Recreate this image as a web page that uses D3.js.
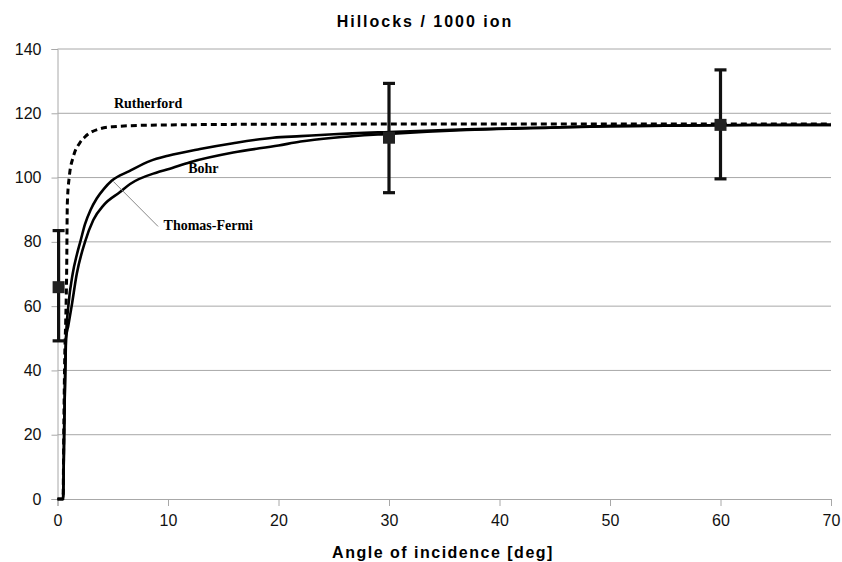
<!DOCTYPE html>
<html>
<head>
<meta charset="utf-8">
<script src="https://cdn.jsdelivr.net/npm/d3@7"></script>
<style>
  body { margin: 0; background: #fff; }
  svg { display: block; }
</style>
</head>
<body>
<div id="svg-container"></div>
<script>
// theoretical curves [angle, hillocks]
const rutherford = [
  [0, 0], [0.5, 0], [0.58, 25], [0.66, 45], [0.74, 55], [0.83, 71], [0.89, 92],
  [1.07, 100.4], [1.43, 106.5], [2.0, 110.7], [2.5, 112.7], [3.85, 115.2], [5, 115.8],
  [8.4, 116.3], [20, 116.6], [40, 116.7], [70, 116.7],
]
const thomasFermi = [
  [0, 0], [0.5, 0], [0.62, 25], [0.77, 50], [0.98, 60], [1.37, 70], [1.75, 76],
  [2.1, 80.5], [2.49, 85.5], [3.0, 90], [3.55, 93.5], [4.2, 96.5], [4.9, 99],
  [6.5, 102], [8.4, 105.2], [10, 106.8], [12.9, 108.9], [15.9, 110.7],
  [19.5, 112.4], [22, 112.9], [25, 113.5], [30, 114.2], [37, 115], [44.6, 115.6],
  [50, 116], [60, 116.3], [70, 116.4],
]
const bohr = [
  [0, 0], [0.5, 0], [0.62, 25], [0.77, 50], [0.98, 54], [1.28, 60], [1.74, 70],
  [2.49, 80], [3.24, 86.8], [4.2, 91.5], [5.66, 95.5], [6.57, 98], [9, 101.6],
  [10, 102.6], [12, 104.8], [15.9, 107.8], [20, 110], [22, 111.2], [25, 112.4],
  [30, 113.6], [37, 114.8], [44.6, 115.5], [50, 116], [60, 116.3], [70, 116.4],
]

// measured points with error bars
const angles = [0.1, 30, 60]
const measured = [65.9, 112.4, 116.4]
const errLow = [49.2, 95.3, 99.6]
const errHigh = [83.5, 129.3, 133.5]

const xTicks = [0, 10, 20, 30, 40, 50, 60, 70]
const yTicks = [0, 20, 40, 60, 80, 100, 120, 140]

const width = 842
const height = 562
const margin = { top: 49, right: 11, bottom: 63, left: 57.5 }

const svg = d3.select('#svg-container').append('svg')
  .attr('width', width).attr('height', height)

const x = d3.scaleLinear().domain([0, 70]).range([margin.left, width - margin.right])
const y = d3.scaleLinear().domain([0, 140]).range([height - margin.bottom, margin.top])

// grid
svg.append('g')
  .selectAll('line')
  .data(yTicks.filter(d => d > 0))
  .join('line')
  .attr('x1', x(0)).attr('x2', x(70))
  .attr('y1', d => y(d)).attr('y2', d => y(d))
  .attr('stroke', '#a8a8a8').attr('stroke-width', 1)

// y axis
const yAxis = svg.append('g')
  .attr('transform', `translate(${x(0)},0)`)
  .call(d3.axisLeft(y).tickValues(yTicks).tickSize(6).tickPadding(10))
yAxis.select('.domain').attr('stroke', '#a8a8a8')
yAxis.selectAll('.tick line').attr('stroke', '#a8a8a8')
yAxis.selectAll('text')
  .attr('font-family', 'Arial, "Liberation Sans", sans-serif')
  .attr('font-size', 16).attr('fill', '#111')

// x axis
const xAxis = svg.append('g')
  .attr('transform', `translate(0,${y(0)})`)
  .call(d3.axisBottom(x).tickValues(xTicks).tickSize(7).tickPadding(9))
xAxis.select('.domain').attr('stroke', '#a8a8a8')
xAxis.selectAll('.tick line').attr('stroke', '#a8a8a8')
xAxis.selectAll('text')
  .attr('font-family', 'Arial, "Liberation Sans", sans-serif')
  .attr('font-size', 16).attr('fill', '#111')

const line = d3.line().x(d => x(d[0])).y(d => y(d[1])).curve(d3.curveMonotoneX)

const curves = svg.append('g').attr('fill', 'none').attr('stroke', '#000')
curves.append('path').datum(bohr).attr('d', line).attr('stroke-width', 2.6)
curves.append('path').datum(thomasFermi).attr('d', line).attr('stroke-width', 2.6)
curves.append('path').datum(rutherford).attr('d', line)
  .attr('stroke-width', 3).attr('stroke-dasharray', '6,4')

// error bars
const pts = angles.map((a, i) => ({ a, v: measured[i], lo: errLow[i], hi: errHigh[i] }))
const eb = svg.append('g').attr('stroke', '#111').attr('stroke-width', 3.2)
eb.selectAll('.stem').data(pts).join('line').attr('class', 'stem')
  .attr('x1', d => x(d.a)).attr('x2', d => x(d.a))
  .attr('y1', d => y(d.lo)).attr('y2', d => y(d.hi))
eb.selectAll('.capHi').data(pts).join('line').attr('class', 'capHi')
  .attr('x1', d => x(d.a) - 6).attr('x2', d => x(d.a) + 6)
  .attr('y1', d => y(d.hi)).attr('y2', d => y(d.hi))
eb.selectAll('.capLo').data(pts).join('line').attr('class', 'capLo')
  .attr('x1', d => x(d.a) - 6).attr('x2', d => x(d.a) + 6)
  .attr('y1', d => y(d.lo)).attr('y2', d => y(d.lo))
svg.append('g').selectAll('rect').data(pts).join('rect')
  .attr('x', d => x(d.a) - 6).attr('y', d => y(d.v) - 6)
  .attr('width', 12).attr('height', 12).attr('fill', '#222')

// curve labels
const serif = '"Liberation Serif", "Times New Roman", serif'
svg.append('text').attr('x', x(8.2)).attr('y', y(121.6))
  .attr('text-anchor', 'middle').attr('font-family', serif)
  .attr('font-weight', 'bold').attr('font-size', 14).text('Rutherford')
svg.append('text').attr('x', x(13.2)).attr('y', y(101.3))
  .attr('text-anchor', 'middle').attr('font-family', serif)
  .attr('font-weight', 'bold').attr('font-size', 14).text('Bohr')
svg.append('line')
  .attr('x1', x(5.05)).attr('y1', y(98.8))
  .attr('x2', x(9.1)).attr('y2', y(84.8))
  .attr('stroke', '#888').attr('stroke-width', 1)
svg.append('text').attr('x', x(9.6)).attr('y', y(83.6))
  .attr('font-family', serif)
  .attr('font-weight', 'bold').attr('font-size', 14).text('Thomas-Fermi')

// titles
const sans = 'Arial, "Liberation Sans", sans-serif'
svg.append('text').attr('x', 425).attr('y', 27)
  .attr('text-anchor', 'middle').attr('font-family', sans)
  .attr('font-weight', 'bold').attr('font-size', 16)
  .attr('letter-spacing', 2).text('Hillocks / 1000 ion')
svg.append('text').attr('x', 443).attr('y', 558)
  .attr('text-anchor', 'middle').attr('font-family', sans)
  .attr('font-weight', 'bold').attr('font-size', 16)
  .attr('letter-spacing', 1.5).text('Angle of incidence [deg]')
</script>
</body>
</html>
